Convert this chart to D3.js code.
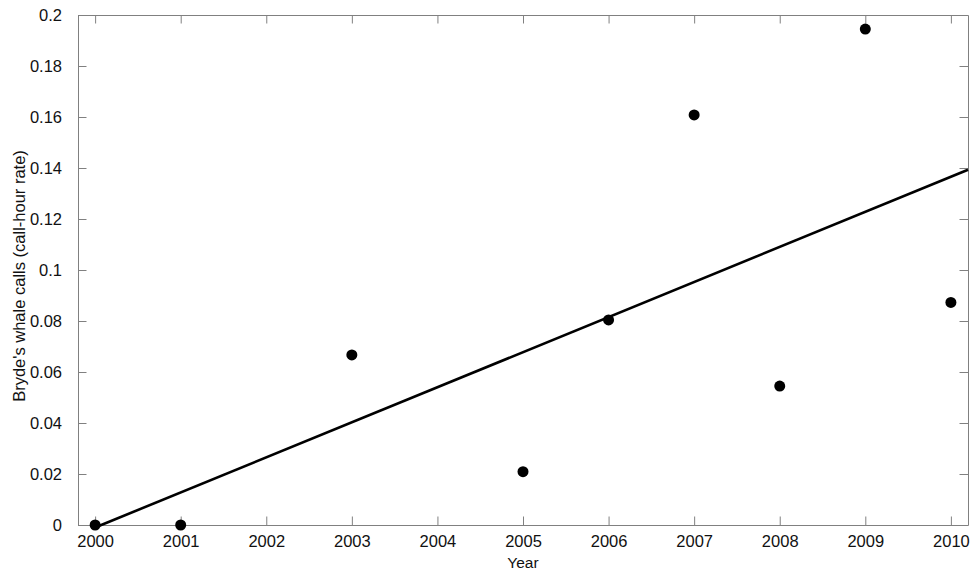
<!DOCTYPE html>
<html>
<head>
<meta charset="utf-8">
<script src="https://cdn.jsdelivr.net/npm/d3@7"></script>
<style>
  body { margin: 0; background: #fff; }
  text { font-family: "Liberation Sans", Arial, sans-serif; fill: #111; }
  .frame path.domain, .frame line { stroke: #808080; }
</style>
</head>
<body>
<svg width="970" height="572"></svg>
<script>
// values
const years = [2000, 2001, 2003, 2005, 2006, 2007, 2008, 2009, 2010];
const callRates = [0, 0, 0.0667, 0.0209, 0.0804, 0.1608, 0.0545, 0.1945, 0.0873];
const xTicks = [2000, 2001, 2002, 2003, 2004, 2005, 2006, 2007, 2008, 2009, 2010];
const yTicks = [0, 0.02, 0.04, 0.06, 0.08, 0.1, 0.12, 0.14, 0.16, 0.18, 0.2];

const svg = d3.select("svg");
const margin = {top: 15, right: 2, bottom: 47, left: 78};
const width = +svg.attr("width") - margin.left - margin.right;
const height = +svg.attr("height") - margin.top - margin.bottom;
const g = svg.append("g").attr("transform", `translate(${margin.left},${margin.top})`);

const x = d3.scaleLinear().domain([1999.8, 2010.2]).range([0, width]);
const y = d3.scaleLinear().domain([0, 0.2]).range([height, 0]);

const fmt = d => d3.format("")(+d.toFixed(2));

// frame with inward ticks on all four sides
g.append("g").attr("class", "frame")
    .attr("transform", `translate(0,${height})`)
    .call(d3.axisBottom(x).tickValues(xTicks).tickFormat(d3.format("d")).tickSize(-8.5).tickPadding(10).tickSizeOuter(0))
    .call(a => a.selectAll("text").attr("font-size", 16.5).attr("dy", "0.75em"));

g.append("g").attr("class", "frame")
    .call(d3.axisTop(x).tickValues(xTicks).tickFormat("").tickSize(-8.5).tickSizeOuter(0));

g.append("g").attr("class", "frame")
    .call(d3.axisLeft(y).tickValues(yTicks).tickFormat(fmt).tickSize(-8.5).tickPadding(16).tickSizeOuter(0))
    .call(a => a.selectAll("text").attr("font-size", 16.5));

g.append("g").attr("class", "frame")
    .attr("transform", `translate(${width},0)`)
    .call(d3.axisRight(y).tickValues(yTicks).tickFormat("").tickSize(-8.5).tickSizeOuter(0));

g.selectAll(".frame text").style("fill", "#111");

// least-squares trend line
const mx = d3.mean(years), my = d3.mean(callRates);
const slope = d3.sum(years, (v, i) => (v - mx) * (callRates[i] - my)) / d3.sum(years, v => (v - mx) ** 2);
const intercept = my - slope * mx;
const fitYears = [2000, 2010.2];

g.append("path")
    .datum(fitYears)
    .attr("fill", "none")
    .attr("stroke", "#000")
    .attr("stroke-width", 2.6)
    .attr("d", d3.line().x(d => x(d)).y(d => y(intercept + slope * d)));

g.selectAll(".dot")
    .data(years)
    .enter().append("circle")
    .attr("class", "dot")
    .attr("cx", d => x(d))
    .attr("cy", (d, i) => y(callRates[i]))
    .attr("r", 5.5)
    .attr("fill", "#000");

svg.append("text")
    .attr("x", margin.left + width / 2)
    .attr("y", 568)
    .attr("text-anchor", "middle")
    .attr("font-size", 15.5)
    .text("Year");

svg.append("text")
    .attr("transform", `translate(25,276) rotate(-90)`)
    .attr("text-anchor", "middle")
    .attr("font-size", 16.5)
    .text("Bryde's whale calls (call-hour rate)");
</script>
</body>
</html>
